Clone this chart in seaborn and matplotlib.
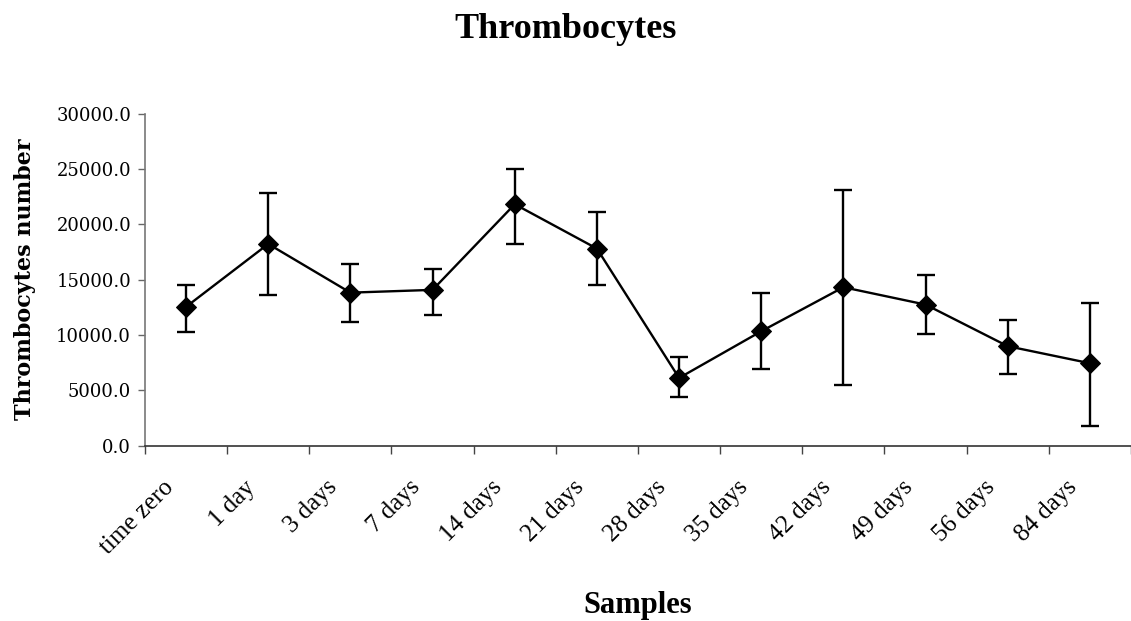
import numpy as np
import matplotlib
matplotlib.use('Agg')
import matplotlib.pyplot as plt
import matplotlib.transforms as mtransforms
import seaborn as sns

# values
categories = ['time zero', '1 day', '3 days', '7 days', '14 days', '21 days',
              '28 days', '35 days', '42 days', '49 days', '56 days', '84 days']
means = [12550, 18230, 13830, 14080, 21820, 17810, 6120, 10340, 14320, 12750, 8990, 7450]
upper = [14500, 22870, 16430, 16000, 25010, 21100, 8050, 13830, 23120, 15400, 11340, 12930]
lower = [10310, 13620, 11160, 11840, 18230, 14500, 4380, 6960, 5460, 10130, 6510, 1780]
y_ticks = [0, 5000, 10000, 15000, 20000, 25000, 30000]

sns.set_style('white')
plt.rcParams['font.family'] = ['Liberation Serif', 'DejaVu Serif']
plt.rcParams['text.color'] = 'black'
plt.rcParams['xtick.color'] = 'black'
plt.rcParams['ytick.color'] = 'black'

x_pos = np.arange(len(categories))
means_arr = np.array(means)
yerr = [means_arr - np.array(lower), np.array(upper) - means_arr]

fig = plt.figure(figsize=(11.31, 6.21), dpi=100)
ax = fig.add_axes([0.1282, 0.2823, 0.8718, 0.5346])

ax.errorbar(x_pos, means_arr, yerr=yerr, fmt='none', ecolor='black',
            elinewidth=1.7, capsize=6.5, capthick=1.7, zorder=2)
sns.lineplot(x=x_pos, y=means_arr, ax=ax, color='black', linewidth=1.7,
             marker='D', markersize=10, markeredgecolor='black', zorder=3)

ax.set_xlim(-0.5, len(categories) - 0.5)
ax.set_ylim(0, 30000)

# y axis
ax.set_yticks(y_ticks)
ax.set_yticklabels([f'{v:.1f}' for v in y_ticks], fontfamily='DejaVu Serif', fontsize=13)
ax.tick_params(axis='y', direction='out', length=5, width=1, color='#666666', pad=5, left=True)

# x axis: ticks between categories, labels at centres
ax.set_xticks(np.arange(-0.5, len(categories), 1))
ax.set_xticklabels([''] * (len(categories) + 1))
ax.set_xticks(x_pos, minor=True)
ax.set_xticklabels(categories, minor=True, rotation=45, ha='right',
                   rotation_mode='anchor', fontsize=18)
ax.tick_params(axis='x', which='major', direction='out', length=6, width=1, color='#444444', bottom=True)
ax.tick_params(axis='x', which='minor', length=0, pad=12)
shift = mtransforms.ScaledTranslation(-24 / 100, -14 / 100, fig.dpi_scale_trans)
for lab in ax.get_xticklabels(minor=True):
    lab.set_transform(lab.get_transform() + shift)

for s in ['top', 'right']:
    ax.spines[s].set_visible(False)
ax.spines['left'].set_color('#777777')
ax.spines['bottom'].set_color('#333333')
ax.spines['left'].set_linewidth(1.2)
ax.spines['bottom'].set_linewidth(1.2)

ax.set_xlabel('')
ax.set_ylabel('')
fig.text(0.5, 1 - 29 / 621, 'Thrombocytes', ha='center', va='center',
         fontsize=26, fontweight='bold')
fig.text(0.564, 1 - 605 / 621, 'Samples', ha='center', va='center',
         fontsize=22, fontweight='bold')
fig.text(25 / 1131, 1 - 279 / 621, 'Thrombocytes number', ha='center', va='center',
         rotation=90, fontsize=16, fontweight='bold', fontfamily='DejaVu Serif')

fig.savefig('out.png', dpi=100)
